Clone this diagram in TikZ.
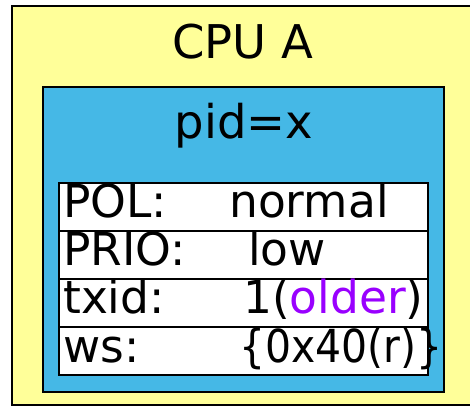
\documentclass[tikz,border=0pt]{standalone}
\usepackage{fontspec}
\setmainfont{DejaVu Sans}
\definecolor{cpuyellow}{RGB}{255,255,153}
\definecolor{pidblue}{RGB}{69,184,230}
\definecolor{olderpurple}{RGB}{153,0,255}
\begin{document}
\begin{tikzpicture}[x=1pt,y=1pt,
  box/.style={draw=black,line width=2pt},
  txt/.style={inner sep=0pt,anchor=base west,font=\fontsize{45.5}{48}\selectfont},
  ctxt/.style={inner sep=0pt,anchor=base,font=\fontsize{46.5}{48}\selectfont}]
\useasboundingbox (0,0) rectangle (470,-407);
% outer CPU box
\filldraw[box,fill=cpuyellow] (12,-6) rectangle (480,-405);
\node[ctxt] (cpu) at (243,-58) {CPU A};
% process box
\filldraw[box,fill=pidblue] (43,-87) rectangle (444,-392);
\node[ctxt] (pid) at (244,-138) {pid=x};
% table rows
\foreach \t/\b [count=\i] in {183/231,231/279,279/327,327/375}{
  \filldraw[draw=black,line width=1.5pt,fill=white] (59,-\t) rectangle (428,-\b);
}
\node[txt] (l1) at (63,-217) {POL:};
\node[txt] (v1) at (229,-217) {normal};
\node[txt] (l2) at (63,-265) {PRIO:};
\node[txt] (v2) at (248,-265) {low};
\node[txt] (l3) at (63,-313) {txid:};
\node[txt] (v3) at (243,-313) {1(\textcolor{olderpurple}{older})};
\node[txt] (l4) at (63,-362) {ws:};
\node[txt] (v4) at (239,-362) {\scalebox{0.9}[1]{\{0x40(r)\}}};
\end{tikzpicture}
\end{document}
